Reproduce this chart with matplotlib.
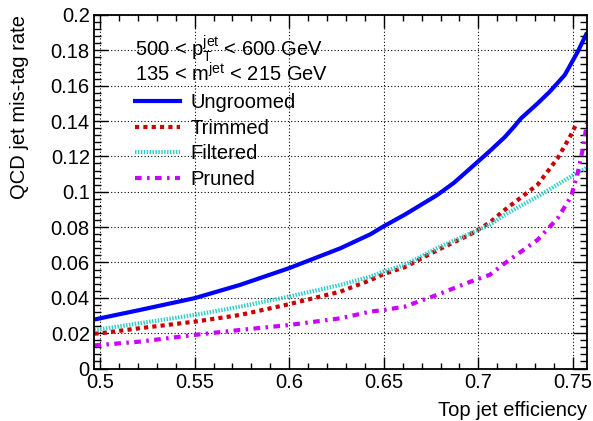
import matplotlib
matplotlib.use('Agg')
import matplotlib.pyplot as plt
from matplotlib.ticker import MultipleLocator
from matplotlib.lines import Line2D

plt.rcParams['font.family'] = ['Liberation Sans', 'DejaVu Sans']
plt.rcParams['mathtext.fontset'] = 'custom'
plt.rcParams['mathtext.rm'] = 'Liberation Sans'

# ---------- data ----------
x_ungroomed = [0.497, 0.5, 0.521, 0.55, 0.574, 0.6, 0.627, 0.643, 0.65, 0.661, 0.678, 0.687,
               0.696, 0.706, 0.714, 0.719, 0.7225, 0.7313, 0.7376, 0.7456, 0.7524, 0.7574]
y_ungroomed = [0.0277, 0.0284, 0.0331, 0.0398, 0.0473, 0.0568, 0.068, 0.076, 0.0805, 0.087, 0.098, 0.105,
               0.1135, 0.123, 0.131, 0.137, 0.1415, 0.150, 0.1565, 0.166, 0.179, 0.190]

x_trimmed = [0.497, 0.5, 0.521, 0.55, 0.574, 0.6, 0.627, 0.643, 0.65, 0.661, 0.678, 0.696,
             0.706, 0.714, 0.7313, 0.7419, 0.749, 0.7516]
y_trimmed = [0.0197, 0.0199, 0.0228, 0.0265, 0.0303, 0.0364, 0.0435, 0.050, 0.0535, 0.0573, 0.0668, 0.076,
             0.0826, 0.0898, 0.104, 0.119, 0.1323, 0.138]

x_filtered = [0.497, 0.5, 0.521, 0.55, 0.574, 0.6, 0.627, 0.643, 0.65, 0.661, 0.678, 0.696,
              0.706, 0.714, 0.7313, 0.749, 0.7574]
y_filtered = [0.0218, 0.0222, 0.0256, 0.0303, 0.035, 0.0407, 0.0473, 0.052, 0.0549, 0.0586, 0.068, 0.0766,
              0.0813, 0.087, 0.0973, 0.1087, 0.1136]

x_pruned = [0.497, 0.5, 0.521, 0.55, 0.574, 0.6, 0.627, 0.643, 0.65, 0.661, 0.678, 0.696,
            0.706, 0.714, 0.7313, 0.7419, 0.749, 0.7525, 0.7551, 0.7574]
y_pruned = [0.0131, 0.0133, 0.0152, 0.019, 0.0218, 0.0246, 0.0284, 0.0322, 0.0331, 0.035, 0.0416, 0.0492,
            0.053, 0.0596, 0.0728, 0.085, 0.0973, 0.1106, 0.1238, 0.139]

labels = ['Ungroomed', 'Trimmed', 'Filtered', 'Pruned']
xtick_vals = [0.5, 0.55, 0.6, 0.65, 0.7, 0.75]
xtick_text = ['0.5', '0.55', '0.6', '0.65', '0.7', '0.75']
ytick_vals = [0, 0.02, 0.04, 0.06, 0.08, 0.1, 0.12, 0.14, 0.16, 0.18, 0.2]
ytick_text = ['0', '0.02', '0.04', '0.06', '0.08', '0.1', '0.12', '0.14', '0.16', '0.18', '0.2']

fs = 14.5

# ---------- figure ----------
fig = plt.figure(figsize=(5.93, 4.21), dpi=100)
ax = fig.add_axes([94 / 593, 1 - 368.5 / 421, (587 - 94) / 593, (368.5 - 15) / 421])

lw = 3.0
st_trim = (0, (1.0, 1.0))
st_filt = (0, (0.35, 0.35))
st_prun = (0, (1.6, 1.3, 0.6, 1.3))
ax.plot(x_ungroomed, y_ungroomed, color='#0000ff', lw=lw, solid_capstyle='butt')
ax.plot(x_trimmed, y_trimmed, color='#cc0000', lw=lw, linestyle=st_trim, dash_capstyle='butt')
ax.plot(x_filtered, y_filtered, color='#33cccc', lw=lw, linestyle=st_filt, dash_capstyle='butt')
ax.plot(x_pruned, y_pruned, color='#cc00ff', lw=lw, linestyle=st_prun, dash_capstyle='butt')

ax.set_xlim(0.4968, 0.7574)
ax.set_ylim(0, 0.2)

ax.xaxis.set_minor_locator(MultipleLocator(0.01))
ax.yaxis.set_minor_locator(MultipleLocator(0.004))
ax.set_xticks(xtick_vals)
ax.set_xticklabels(xtick_text)
ax.set_yticks(ytick_vals)
ax.set_yticklabels(ytick_text)

ax.tick_params(which='both', direction='in', top=True, right=True, labelsize=fs, width=1, color='black')
ax.tick_params(axis='x', which='major', length=9, pad=3)
ax.tick_params(axis='x', which='minor', length=4.5)
ax.tick_params(axis='y', which='major', length=10, pad=3)
ax.tick_params(axis='y', which='minor', length=5)
for s in ax.spines.values():
    s.set_linewidth(1.3)

ax.grid(True, which='major', color='black', linestyle=(0, (1, 2)), linewidth=0.8)
ax.set_axisbelow(True)

ax.set_xlabel('Top jet efficiency', fontsize=fs, loc='right', labelpad=6.5)
ax.set_ylabel('QCD jet mis-tag rate', fontsize=fs, loc='top', labelpad=15.5)

# ---------- legend / text box ----------
ax.text(0.083, 0.905, r'500 < $\mathregular{p_{T}^{jet}}$ < 600 GeV', transform=ax.transAxes,
        fontsize=fs, va='center')
ax.text(0.083, 0.832, r'135 < $\mathregular{m^{jet}}$ < 215 GeV', transform=ax.transAxes,
        fontsize=fs, va='center')
handles = [
    Line2D([], [], color='#0000ff', lw=lw),
    Line2D([], [], color='#cc0000', lw=lw, linestyle=st_trim),
    Line2D([], [], color='#33cccc', lw=lw, linestyle=st_filt),
    Line2D([], [], color='#cc00ff', lw=lw, linestyle=st_prun),
]
leg = ax.legend(handles, labels, loc='upper left', bbox_to_anchor=(0.083, 0.778), frameon=False,
                fontsize=fs, handlelength=2.25, handletextpad=0.5, labelspacing=0.32, borderpad=0,
                borderaxespad=0)

fig.savefig('out.png', dpi=100)
